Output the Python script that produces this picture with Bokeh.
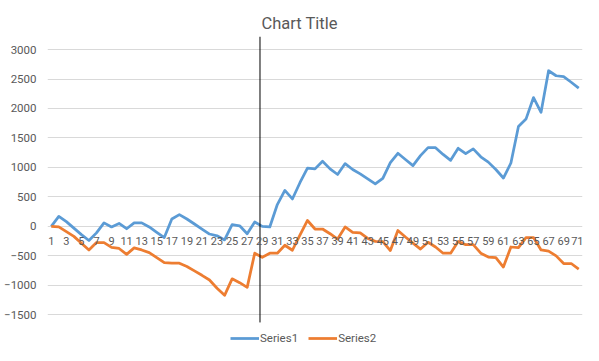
from bokeh.plotting import figure
from bokeh.models import (Range1d, FixedTicker, Legend, LegendItem, ColumnDataSource)
from bokeh.embed import file_html
from bokeh.resources import INLINE

# ---- data ----
categories = list(range(1, 72))
series1 = [0, 170, 80, -30, -140, -240, -110, 60, -10, 50, -40, 60, 60, -10, -100, -190,
           125, 200, 125, 40, -45, -130, -160, -230, 30, 10, -125, 75, 0, -10, 370, 610,
           465, 740, 990, 975, 1105, 975, 880, 1065, 965, 890, 805, 720, 815, 1080, 1240,
           1135, 1030, 1200, 1335, 1335, 1220, 1120, 1325, 1235, 1315, 1180, 1090, 965,
           820, 1075, 1695, 1820, 2185, 1935, 2640, 2555, 2540, 2445, 2345]
series2 = [0, -10, -90, -170, -285, -400, -275, -275, -355, -375, -475, -365, -400, -445,
           -530, -615, -625, -625, -680, -755, -830, -910, -1050, -1170, -890, -955, -1035,
           -455, -525, -455, -455, -320, -405, -150, 100, -45, -45, -125, -215, -10, -100,
           -110, -205, -255, -260, -410, -70, -180, -285, -385, -270, -350, -455, -455,
           -255, -310, -310, -455, -520, -530, -690, -350, -360, -190, -190, -400, -420,
           -500, -630, -630, -725]
x_tick_labels = list(range(1, 72, 2))
y_ticks = [-1500, -1000, -500, 0, 500, 1000, 1500, 2000, 2500, 3000]
marker_x = 28.7
marker_y = [-1630, 3221]

TXT = "#595959"
FONT = "Roboto"

p = figure(width=583, height=345, output_backend="svg", toolbar_location=None,
           x_range=Range1d(0.5, 71.5), y_range=Range1d(-2021, 3221),
           min_border_left=47, min_border_right=1, min_border_top=36, min_border_bottom=0)

p.title.text = "Chart Title"
p.title.align = "left"
p.title.offset = 214
p.title.standoff = 8
p.title.text_font = FONT
p.title.text_font_size = "16.5px"
p.title.text_font_style = "normal"
p.title.text_color = TXT

p.outline_line_color = None
p.background_fill_color = "white"
p.border_fill_color = "white"

p.xgrid.visible = False
p.ygrid.grid_line_color = "#D9D9D9"
p.ygrid.grid_line_width = 1

# y axis
p.yaxis.ticker = FixedTicker(ticks=y_ticks)
p.yaxis.axis_line_color = None
p.yaxis.major_tick_line_color = None
p.yaxis.minor_tick_line_color = None
p.yaxis.major_tick_out = 0
p.yaxis.major_label_standoff = 11
p.yaxis.major_label_text_font = FONT
p.yaxis.major_label_text_font_size = "11.5px"
p.yaxis.major_label_text_color = TXT

# x axis at y = 0
p.xaxis.fixed_location = 0
p.xaxis.ticker = FixedTicker(ticks=x_tick_labels)
p.xaxis.axis_line_color = None
p.xaxis.major_tick_line_color = None
p.xaxis.minor_tick_line_color = None
p.xaxis.major_tick_out = 0
p.xaxis.major_label_standoff = 11
p.xaxis.major_label_text_font = FONT
p.xaxis.major_label_text_font_size = "11px"
p.xaxis.major_label_text_color = TXT

src = ColumnDataSource(dict(x=categories, s1=series1, s2=series2))
r1 = p.line("x", "s1", source=src, line_color="#5B9BD5", line_width=2.75, line_join="round")
r2 = p.line("x", "s2", source=src, line_color="#ED7D31", line_width=2.75, line_join="round")

p.line(x=[marker_x, marker_x], y=marker_y, line_color="black", line_width=1)

legend = Legend(items=[LegendItem(label="Series1", renderers=[r1]),
                       LegendItem(label="Series2", renderers=[r2])],
                orientation="horizontal", location=(183, 0),
                glyph_width=29, glyph_height=10, label_height=10, label_standoff=1,
                spacing=10, padding=0, margin=0, border_line_color=None,
                background_fill_alpha=0,
                label_text_font=FONT, label_text_font_size="11.5px", label_text_color=TXT)
p.add_layout(legend)

open("out.html", "w").write(file_html(p, INLINE))
